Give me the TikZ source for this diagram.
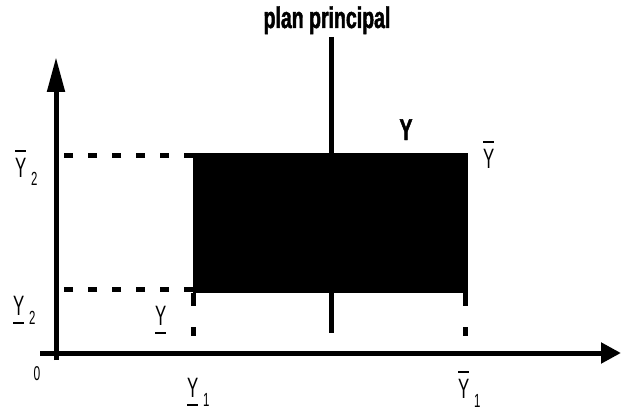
\documentclass[tikz,border=0pt]{standalone}
\usepackage{fontspec}
\setmainfont{Liberation Sans}
\newfontfamily\lblfont[FakeStretch=0.6]{Liberation Sans}
\newfontfamily\headfont[FakeStretch=0.65,FakeBold=1.5]{Liberation Sans Bold}
\usetikzlibrary{arrows.meta}

\newcommand{\ovY}{\rlap{\raisebox{25pt}{\rule{11pt}{2pt}}}Y}
\newcommand{\unY}{\rlap{\raisebox{-9pt}{\rule{11pt}{2pt}}}Y}
\newcommand{\lowsub}[1]{\,\raisebox{-9pt}{\fontsize{19}{19}\selectfont #1}}

\begin{document}
\begin{tikzpicture}[
  x=1pt,y=-1pt,
  axis/.style={line width=5pt},
  guide/.style={line width=5pt,dash pattern=on 9pt off 15pt},
  drop/.style={line width=5pt,dash pattern=on 13pt off 21pt on 9pt off 15pt},
  lbl/.style={inner sep=0,anchor=base west,font=\lblfont\fontsize{28}{28}\selectfont},
  head/.style={inner sep=0,anchor=base,font=\headfont\fontsize{30}{30}\selectfont}
]
  \useasboundingbox (0,0) rectangle (622,412);

  % axes
  \coordinate (xs) at (40,353);
  \coordinate (xe) at (621,353);
  \coordinate (ys) at (56,360);
  \coordinate (ye) at (56,57);
  \draw[axis,-{Triangle[length=20pt,width=20pt]}] (xs) -- (xe);
  \draw[axis,-{Triangle[length=35pt,width=17pt]}] (ys) -- (ye);

  % the box and its guides
  \node[fill=black,inner sep=0,minimum width=275pt,minimum height=140pt,
    anchor=north west] (box) at (193,153) {};
  \coordinate (g1) at (193,155);
  \coordinate (g2) at (193,289);
  \coordinate (d1) at (193,293);
  \coordinate (d2) at (465,293);
  \draw[guide] (g1) -- (g1 -| ye);
  \draw[guide] (g2) -- (g2 -| ye);
  \draw[drop] (d1) -- (d1 |- xs);
  \draw[drop] (d2) -- (d2 |- xs);

  % principal plane
  \coordinate (pt) at (331,37);
  \coordinate (pb) at (331,333);
  \draw[axis] (pt) -- (pb);
  \node[head] (plan) at (327,28) {plan principal};

  % labels
  \node[lbl] (y2up) at (15,177) {\ovY\lowsub{2}};
  \node[lbl] (y2lo) at (13,315) {\unY\lowsub{2}};
  \node[lbl] (ylo) at (155,325) {\unY};
  \node[lbl] (y1lo) at (187,397) {\unY\lowsub{1}};
  \node[lbl] (y1up) at (458,398) {\ovY\lowsub{1}};
  \node[lbl] (yup) at (483,168) {\ovY};
  \node[head] (ymid) at (406,140) {Y};
  \node[inner sep=0,anchor=base,font=\lblfont\fontsize{20}{20}\selectfont] (orig) at (37,380) {0};
\end{tikzpicture}
\end{document}
